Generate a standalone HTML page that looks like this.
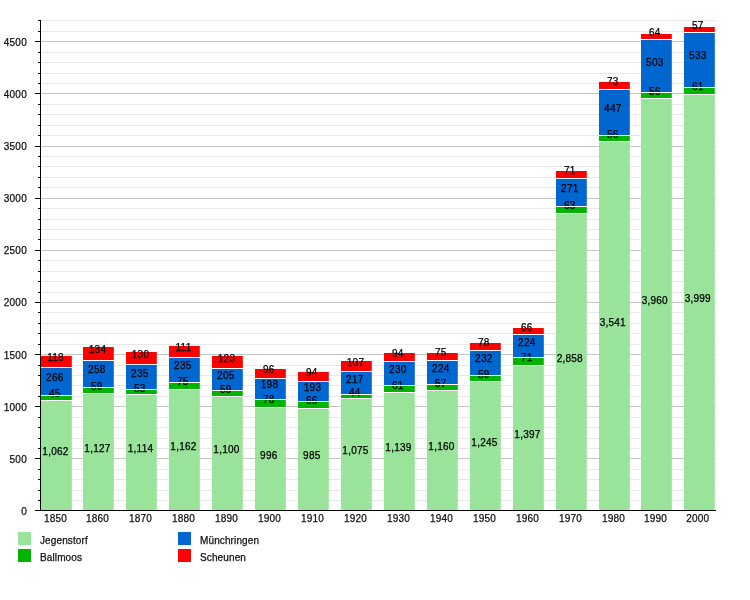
<!DOCTYPE html>
<html><head><meta charset="utf-8"><style>
html,body{margin:0;padding:0;background:#fff;width:750px;height:600px;overflow:hidden;position:relative}
svg text{font-family:"Liberation Sans",sans-serif;font-size:10px;stroke:currentColor;stroke-width:0.25px}
.lb text{fill:#000;color:#000}
text.ax{fill:#111;color:#111}
text.num{letter-spacing:0.25px}
</style></head><body>
<svg width="750" height="600" viewBox="0 0 750 600" style="position:absolute;left:0;top:0;will-change:transform"><line x1="41" y1="500.5" x2="716" y2="500.5" stroke="#e8e8e8" stroke-width="1"/><line x1="41" y1="490.5" x2="716" y2="490.5" stroke="#e8e8e8" stroke-width="1"/><line x1="41" y1="479.5" x2="716" y2="479.5" stroke="#e8e8e8" stroke-width="1"/><line x1="41" y1="469.5" x2="716" y2="469.5" stroke="#e8e8e8" stroke-width="1"/><line x1="41" y1="458.5" x2="716" y2="458.5" stroke="#c6c6c6" stroke-width="1"/><line x1="41" y1="448.5" x2="716" y2="448.5" stroke="#e8e8e8" stroke-width="1"/><line x1="41" y1="438.5" x2="716" y2="438.5" stroke="#e8e8e8" stroke-width="1"/><line x1="41" y1="427.5" x2="716" y2="427.5" stroke="#e8e8e8" stroke-width="1"/><line x1="41" y1="417.5" x2="716" y2="417.5" stroke="#e8e8e8" stroke-width="1"/><line x1="41" y1="406.5" x2="716" y2="406.5" stroke="#c6c6c6" stroke-width="1"/><line x1="41" y1="396.5" x2="716" y2="396.5" stroke="#e8e8e8" stroke-width="1"/><line x1="41" y1="385.5" x2="716" y2="385.5" stroke="#e8e8e8" stroke-width="1"/><line x1="41" y1="375.5" x2="716" y2="375.5" stroke="#e8e8e8" stroke-width="1"/><line x1="41" y1="365.5" x2="716" y2="365.5" stroke="#e8e8e8" stroke-width="1"/><line x1="41" y1="354.5" x2="716" y2="354.5" stroke="#c6c6c6" stroke-width="1"/><line x1="41" y1="344.5" x2="716" y2="344.5" stroke="#e8e8e8" stroke-width="1"/><line x1="41" y1="333.5" x2="716" y2="333.5" stroke="#e8e8e8" stroke-width="1"/><line x1="41" y1="323.5" x2="716" y2="323.5" stroke="#e8e8e8" stroke-width="1"/><line x1="41" y1="312.5" x2="716" y2="312.5" stroke="#e8e8e8" stroke-width="1"/><line x1="41" y1="302.5" x2="716" y2="302.5" stroke="#c6c6c6" stroke-width="1"/><line x1="41" y1="292.5" x2="716" y2="292.5" stroke="#e8e8e8" stroke-width="1"/><line x1="41" y1="281.5" x2="716" y2="281.5" stroke="#e8e8e8" stroke-width="1"/><line x1="41" y1="271.5" x2="716" y2="271.5" stroke="#e8e8e8" stroke-width="1"/><line x1="41" y1="260.5" x2="716" y2="260.5" stroke="#e8e8e8" stroke-width="1"/><line x1="41" y1="250.5" x2="716" y2="250.5" stroke="#c6c6c6" stroke-width="1"/><line x1="41" y1="239.5" x2="716" y2="239.5" stroke="#e8e8e8" stroke-width="1"/><line x1="41" y1="229.5" x2="716" y2="229.5" stroke="#e8e8e8" stroke-width="1"/><line x1="41" y1="219.5" x2="716" y2="219.5" stroke="#e8e8e8" stroke-width="1"/><line x1="41" y1="208.5" x2="716" y2="208.5" stroke="#e8e8e8" stroke-width="1"/><line x1="41" y1="198.5" x2="716" y2="198.5" stroke="#c6c6c6" stroke-width="1"/><line x1="41" y1="187.5" x2="716" y2="187.5" stroke="#e8e8e8" stroke-width="1"/><line x1="41" y1="177.5" x2="716" y2="177.5" stroke="#e8e8e8" stroke-width="1"/><line x1="41" y1="166.5" x2="716" y2="166.5" stroke="#e8e8e8" stroke-width="1"/><line x1="41" y1="156.5" x2="716" y2="156.5" stroke="#e8e8e8" stroke-width="1"/><line x1="41" y1="146.5" x2="716" y2="146.5" stroke="#c6c6c6" stroke-width="1"/><line x1="41" y1="135.5" x2="716" y2="135.5" stroke="#e8e8e8" stroke-width="1"/><line x1="41" y1="125.5" x2="716" y2="125.5" stroke="#e8e8e8" stroke-width="1"/><line x1="41" y1="114.5" x2="716" y2="114.5" stroke="#e8e8e8" stroke-width="1"/><line x1="41" y1="104.5" x2="716" y2="104.5" stroke="#e8e8e8" stroke-width="1"/><line x1="41" y1="93.5" x2="716" y2="93.5" stroke="#c6c6c6" stroke-width="1"/><line x1="41" y1="83.5" x2="716" y2="83.5" stroke="#e8e8e8" stroke-width="1"/><line x1="41" y1="73.5" x2="716" y2="73.5" stroke="#e8e8e8" stroke-width="1"/><line x1="41" y1="62.5" x2="716" y2="62.5" stroke="#e8e8e8" stroke-width="1"/><line x1="41" y1="52.5" x2="716" y2="52.5" stroke="#e8e8e8" stroke-width="1"/><line x1="41" y1="41.5" x2="716" y2="41.5" stroke="#c6c6c6" stroke-width="1"/><line x1="41" y1="31.5" x2="716" y2="31.5" stroke="#e8e8e8" stroke-width="1"/><line x1="41" y1="20.5" x2="716" y2="20.5" stroke="#e8e8e8" stroke-width="1"/><rect x="41.00" y="401" width="30.8" height="110" fill="#99e39b"/><rect x="41.00" y="396" width="30.8" height="4" fill="#00b400"/><rect x="41.00" y="368" width="30.8" height="27" fill="#0067d0"/><rect x="41.00" y="356" width="30.8" height="11" fill="#ff0000"/><rect x="41.00" y="355" width="30.8" height="1" fill="#fff"/><text class="ax num" x="55.50" y="522" text-anchor="middle">1850</text><rect x="83.00" y="394" width="30.8" height="117" fill="#99e39b"/><rect x="83.00" y="388" width="30.8" height="5" fill="#00b400"/><rect x="83.00" y="361" width="30.8" height="26" fill="#0067d0"/><rect x="83.00" y="347" width="30.8" height="13" fill="#ff0000"/><rect x="83.00" y="346" width="30.8" height="1" fill="#fff"/><text class="ax num" x="97.50" y="522" text-anchor="middle">1860</text><rect x="126.00" y="395" width="30.8" height="116" fill="#99e39b"/><rect x="126.00" y="390" width="30.8" height="4" fill="#00b400"/><rect x="126.00" y="365" width="30.8" height="24" fill="#0067d0"/><rect x="126.00" y="352" width="30.8" height="12" fill="#ff0000"/><rect x="126.00" y="351" width="30.8" height="1" fill="#fff"/><text class="ax num" x="140.50" y="522" text-anchor="middle">1870</text><rect x="169.00" y="390" width="30.8" height="121" fill="#99e39b"/><rect x="169.00" y="383" width="30.8" height="6" fill="#00b400"/><rect x="169.00" y="358" width="30.8" height="24" fill="#0067d0"/><rect x="169.00" y="346" width="30.8" height="11" fill="#ff0000"/><rect x="169.00" y="345" width="30.8" height="1" fill="#fff"/><text class="ax num" x="183.50" y="522" text-anchor="middle">1880</text><rect x="212.00" y="397" width="30.8" height="114" fill="#99e39b"/><rect x="212.00" y="391" width="30.8" height="5" fill="#00b400"/><rect x="212.00" y="369" width="30.8" height="21" fill="#0067d0"/><rect x="212.00" y="356" width="30.8" height="12" fill="#ff0000"/><rect x="212.00" y="355" width="30.8" height="1" fill="#fff"/><text class="ax num" x="226.50" y="522" text-anchor="middle">1890</text><rect x="255.00" y="408" width="30.8" height="103" fill="#99e39b"/><rect x="255.00" y="400" width="30.8" height="7" fill="#00b400"/><rect x="255.00" y="379" width="30.8" height="20" fill="#0067d0"/><rect x="255.00" y="369" width="30.8" height="9" fill="#ff0000"/><rect x="255.00" y="368" width="30.8" height="1" fill="#fff"/><text class="ax num" x="269.50" y="522" text-anchor="middle">1900</text><rect x="298.00" y="409" width="30.8" height="102" fill="#99e39b"/><rect x="298.00" y="402" width="30.8" height="6" fill="#00b400"/><rect x="298.00" y="382" width="30.8" height="19" fill="#0067d0"/><rect x="298.00" y="372" width="30.8" height="9" fill="#ff0000"/><rect x="298.00" y="371" width="30.8" height="1" fill="#fff"/><text class="ax num" x="312.50" y="522" text-anchor="middle">1910</text><rect x="341.00" y="399" width="30.8" height="112" fill="#99e39b"/><rect x="341.00" y="395" width="30.8" height="3" fill="#00b400"/><rect x="341.00" y="372" width="30.8" height="22" fill="#0067d0"/><rect x="341.00" y="361" width="30.8" height="10" fill="#ff0000"/><rect x="341.00" y="360" width="30.8" height="1" fill="#fff"/><text class="ax num" x="355.50" y="522" text-anchor="middle">1920</text><rect x="384.00" y="393" width="30.8" height="118" fill="#99e39b"/><rect x="384.00" y="386" width="30.8" height="6" fill="#00b400"/><rect x="384.00" y="362" width="30.8" height="23" fill="#0067d0"/><rect x="384.00" y="353" width="30.8" height="8" fill="#ff0000"/><rect x="384.00" y="352" width="30.8" height="1" fill="#fff"/><text class="ax num" x="398.50" y="522" text-anchor="middle">1930</text><rect x="427.00" y="391" width="30.8" height="120" fill="#99e39b"/><rect x="427.00" y="385" width="30.8" height="5" fill="#00b400"/><rect x="427.00" y="361" width="30.8" height="23" fill="#0067d0"/><rect x="427.00" y="353" width="30.8" height="7" fill="#ff0000"/><rect x="427.00" y="352" width="30.8" height="1" fill="#fff"/><text class="ax num" x="441.50" y="522" text-anchor="middle">1940</text><rect x="470.00" y="382" width="30.8" height="129" fill="#99e39b"/><rect x="470.00" y="376" width="30.8" height="5" fill="#00b400"/><rect x="470.00" y="351" width="30.8" height="24" fill="#0067d0"/><rect x="470.00" y="343" width="30.8" height="7" fill="#ff0000"/><rect x="470.00" y="342" width="30.8" height="1" fill="#fff"/><text class="ax num" x="484.50" y="522" text-anchor="middle">1950</text><rect x="513.00" y="366" width="30.8" height="145" fill="#99e39b"/><rect x="513.00" y="358" width="30.8" height="7" fill="#00b400"/><rect x="513.00" y="335" width="30.8" height="22" fill="#0067d0"/><rect x="513.00" y="328" width="30.8" height="6" fill="#ff0000"/><rect x="513.00" y="327" width="30.8" height="1" fill="#fff"/><text class="ax num" x="527.50" y="522" text-anchor="middle">1960</text><rect x="556.00" y="214" width="30.8" height="297" fill="#99e39b"/><rect x="556.00" y="207" width="30.8" height="6" fill="#00b400"/><rect x="556.00" y="179" width="30.8" height="27" fill="#0067d0"/><rect x="556.00" y="171" width="30.8" height="7" fill="#ff0000"/><rect x="556.00" y="170" width="30.8" height="1" fill="#fff"/><text class="ax num" x="570.50" y="522" text-anchor="middle">1970</text><rect x="599.00" y="142" width="30.8" height="369" fill="#99e39b"/><rect x="599.00" y="136" width="30.8" height="5" fill="#00b400"/><rect x="599.00" y="90" width="30.8" height="45" fill="#0067d0"/><rect x="599.00" y="82" width="30.8" height="7" fill="#ff0000"/><rect x="599.00" y="81" width="30.8" height="1" fill="#fff"/><text class="ax num" x="613.50" y="522" text-anchor="middle">1980</text><rect x="641.00" y="99" width="30.8" height="412" fill="#99e39b"/><rect x="641.00" y="93" width="30.8" height="5" fill="#00b400"/><rect x="641.00" y="40" width="30.8" height="52" fill="#0067d0"/><rect x="641.00" y="34" width="30.8" height="5" fill="#ff0000"/><rect x="641.00" y="33" width="30.8" height="1" fill="#fff"/><text class="ax num" x="655.50" y="522" text-anchor="middle">1990</text><rect x="684.00" y="95" width="30.8" height="416" fill="#99e39b"/><rect x="684.00" y="88" width="30.8" height="6" fill="#00b400"/><rect x="684.00" y="33" width="30.8" height="54" fill="#0067d0"/><rect x="684.00" y="27" width="30.8" height="5" fill="#ff0000"/><rect x="684.00" y="26" width="30.8" height="1" fill="#fff"/><text class="ax num" x="697.80" y="522" text-anchor="middle">2000</text><g class="lb"><text class="num" x="55.50" y="455.00" text-anchor="middle">1,062</text><text class="num" x="54.80" y="397.00" text-anchor="middle">45</text><text class="num" x="54.80" y="381.00" text-anchor="middle">266</text><text class="num" x="55.50" y="361.00" text-anchor="middle">118</text><text class="num" x="97.50" y="452.00" text-anchor="middle">1,127</text><text class="num" x="96.80" y="390.00" text-anchor="middle">59</text><text class="num" x="96.80" y="373.00" text-anchor="middle">258</text><text class="num" x="97.50" y="353.00" text-anchor="middle">134</text><text class="num" x="140.50" y="452.00" text-anchor="middle">1,114</text><text class="num" x="139.80" y="392.00" text-anchor="middle">53</text><text class="num" x="139.80" y="377.00" text-anchor="middle">235</text><text class="num" x="140.50" y="358.00" text-anchor="middle">130</text><text class="num" x="183.50" y="450.00" text-anchor="middle">1,162</text><text class="num" x="182.80" y="385.00" text-anchor="middle">75</text><text class="num" x="182.80" y="369.00" text-anchor="middle">235</text><text class="num" x="183.50" y="351.00" text-anchor="middle">111</text><text class="num" x="226.50" y="453.00" text-anchor="middle">1,100</text><text class="num" x="225.80" y="393.00" text-anchor="middle">59</text><text class="num" x="225.80" y="379.00" text-anchor="middle">205</text><text class="num" x="226.50" y="362.00" text-anchor="middle">123</text><text class="num" x="268.80" y="459.00" text-anchor="middle">996</text><text class="num" x="268.80" y="403.00" text-anchor="middle">78</text><text class="num" x="269.50" y="388.00" text-anchor="middle">198</text><text class="num" x="268.80" y="373.00" text-anchor="middle">96</text><text class="num" x="311.80" y="459.00" text-anchor="middle">985</text><text class="num" x="311.80" y="404.00" text-anchor="middle">66</text><text class="num" x="312.50" y="391.00" text-anchor="middle">193</text><text class="num" x="311.80" y="376.00" text-anchor="middle">94</text><text class="num" x="355.50" y="454.00" text-anchor="middle">1,075</text><text class="num" x="354.80" y="396.00" text-anchor="middle">44</text><text class="num" x="354.80" y="383.00" text-anchor="middle">217</text><text class="num" x="355.50" y="366.00" text-anchor="middle">107</text><text class="num" x="398.50" y="451.00" text-anchor="middle">1,139</text><text class="num" x="397.80" y="389.00" text-anchor="middle">61</text><text class="num" x="397.80" y="373.00" text-anchor="middle">230</text><text class="num" x="397.80" y="357.00" text-anchor="middle">94</text><text class="num" x="441.50" y="450.00" text-anchor="middle">1,160</text><text class="num" x="440.80" y="387.00" text-anchor="middle">57</text><text class="num" x="440.80" y="372.00" text-anchor="middle">224</text><text class="num" x="440.80" y="356.00" text-anchor="middle">75</text><text class="num" x="484.50" y="446.00" text-anchor="middle">1,245</text><text class="num" x="483.80" y="378.00" text-anchor="middle">59</text><text class="num" x="483.80" y="362.00" text-anchor="middle">232</text><text class="num" x="483.80" y="346.00" text-anchor="middle">78</text><text class="num" x="527.50" y="438.00" text-anchor="middle">1,397</text><text class="num" x="526.80" y="361.00" text-anchor="middle">71</text><text class="num" x="526.80" y="346.00" text-anchor="middle">224</text><text class="num" x="526.80" y="331.00" text-anchor="middle">66</text><text class="num" x="569.80" y="362.00" text-anchor="middle">2,858</text><text class="num" x="569.80" y="209.00" text-anchor="middle">63</text><text class="num" x="569.80" y="192.00" text-anchor="middle">271</text><text class="num" x="569.80" y="174.00" text-anchor="middle">71</text><text class="num" x="612.80" y="326.00" text-anchor="middle">3,541</text><text class="num" x="612.80" y="138.00" text-anchor="middle">56</text><text class="num" x="612.80" y="112.00" text-anchor="middle">447</text><text class="num" x="612.80" y="85.00" text-anchor="middle">73</text><text class="num" x="654.80" y="304.00" text-anchor="middle">3,960</text><text class="num" x="654.80" y="95.00" text-anchor="middle">56</text><text class="num" x="654.80" y="66.00" text-anchor="middle">503</text><text class="num" x="654.80" y="36.00" text-anchor="middle">64</text><text class="num" x="697.80" y="302.00" text-anchor="middle">3,999</text><text class="num" x="697.80" y="90.00" text-anchor="middle">61</text><text class="num" x="697.80" y="59.00" text-anchor="middle">533</text><text class="num" x="697.80" y="29.00" text-anchor="middle">57</text></g><rect x="41.00" y="400" width="30.8" height="1" fill="#fff"/><rect x="41.00" y="395" width="30.8" height="1" fill="#fff"/><rect x="41.00" y="367" width="30.8" height="1" fill="#fff"/><rect x="83.00" y="393" width="30.8" height="1" fill="#fff"/><rect x="83.00" y="387" width="30.8" height="1" fill="#fff"/><rect x="83.00" y="360" width="30.8" height="1" fill="#fff"/><rect x="126.00" y="394" width="30.8" height="1" fill="#fff"/><rect x="126.00" y="389" width="30.8" height="1" fill="#fff"/><rect x="126.00" y="364" width="30.8" height="1" fill="#fff"/><rect x="169.00" y="389" width="30.8" height="1" fill="#fff"/><rect x="169.00" y="382" width="30.8" height="1" fill="#fff"/><rect x="169.00" y="357" width="30.8" height="1" fill="#fff"/><rect x="212.00" y="396" width="30.8" height="1" fill="#fff"/><rect x="212.00" y="390" width="30.8" height="1" fill="#fff"/><rect x="212.00" y="368" width="30.8" height="1" fill="#fff"/><rect x="255.00" y="407" width="30.8" height="1" fill="#fff"/><rect x="255.00" y="399" width="30.8" height="1" fill="#fff"/><rect x="255.00" y="378" width="30.8" height="1" fill="#fff"/><rect x="298.00" y="408" width="30.8" height="1" fill="#fff"/><rect x="298.00" y="401" width="30.8" height="1" fill="#fff"/><rect x="298.00" y="381" width="30.8" height="1" fill="#fff"/><rect x="341.00" y="398" width="30.8" height="1" fill="#fff"/><rect x="341.00" y="394" width="30.8" height="1" fill="#fff"/><rect x="341.00" y="371" width="30.8" height="1" fill="#fff"/><rect x="384.00" y="392" width="30.8" height="1" fill="#fff"/><rect x="384.00" y="385" width="30.8" height="1" fill="#fff"/><rect x="384.00" y="361" width="30.8" height="1" fill="#fff"/><rect x="427.00" y="390" width="30.8" height="1" fill="#fff"/><rect x="427.00" y="384" width="30.8" height="1" fill="#fff"/><rect x="427.00" y="360" width="30.8" height="1" fill="#fff"/><rect x="470.00" y="381" width="30.8" height="1" fill="#fff"/><rect x="470.00" y="375" width="30.8" height="1" fill="#fff"/><rect x="470.00" y="350" width="30.8" height="1" fill="#fff"/><rect x="513.00" y="365" width="30.8" height="1" fill="#fff"/><rect x="513.00" y="357" width="30.8" height="1" fill="#fff"/><rect x="513.00" y="334" width="30.8" height="1" fill="#fff"/><rect x="556.00" y="213" width="30.8" height="1" fill="#fff"/><rect x="556.00" y="206" width="30.8" height="1" fill="#fff"/><rect x="556.00" y="178" width="30.8" height="1" fill="#fff"/><rect x="599.00" y="141" width="30.8" height="1" fill="#fff"/><rect x="599.00" y="135" width="30.8" height="1" fill="#fff"/><rect x="599.00" y="89" width="30.8" height="1" fill="#fff"/><rect x="641.00" y="98" width="30.8" height="1" fill="#fff"/><rect x="641.00" y="92" width="30.8" height="1" fill="#fff"/><rect x="641.00" y="39" width="30.8" height="1" fill="#fff"/><rect x="684.00" y="94" width="30.8" height="1" fill="#fff"/><rect x="684.00" y="87" width="30.8" height="1" fill="#fff"/><rect x="684.00" y="32" width="30.8" height="1" fill="#fff"/><rect x="40" y="20" width="1" height="491" fill="#000"/><rect x="35" y="510" width="681" height="1" fill="#000"/><rect x="35" y="510" width="5" height="1" fill="#000"/><text class="ax num" x="27" y="515" text-anchor="end">0</text><rect x="38" y="500" width="2" height="1" fill="#000"/><rect x="38" y="490" width="2" height="1" fill="#000"/><rect x="38" y="479" width="2" height="1" fill="#000"/><rect x="38" y="469" width="2" height="1" fill="#000"/><rect x="35" y="458" width="5" height="1" fill="#000"/><text class="ax num" x="27" y="463" text-anchor="end">500</text><rect x="38" y="448" width="2" height="1" fill="#000"/><rect x="38" y="438" width="2" height="1" fill="#000"/><rect x="38" y="427" width="2" height="1" fill="#000"/><rect x="38" y="417" width="2" height="1" fill="#000"/><rect x="35" y="406" width="5" height="1" fill="#000"/><text class="ax num" x="27" y="411" text-anchor="end">1000</text><rect x="38" y="396" width="2" height="1" fill="#000"/><rect x="38" y="385" width="2" height="1" fill="#000"/><rect x="38" y="375" width="2" height="1" fill="#000"/><rect x="38" y="365" width="2" height="1" fill="#000"/><rect x="35" y="354" width="5" height="1" fill="#000"/><text class="ax num" x="27" y="359" text-anchor="end">1500</text><rect x="38" y="344" width="2" height="1" fill="#000"/><rect x="38" y="333" width="2" height="1" fill="#000"/><rect x="38" y="323" width="2" height="1" fill="#000"/><rect x="38" y="312" width="2" height="1" fill="#000"/><rect x="35" y="302" width="5" height="1" fill="#000"/><text class="ax num" x="27" y="306" text-anchor="end">2000</text><rect x="38" y="292" width="2" height="1" fill="#000"/><rect x="38" y="281" width="2" height="1" fill="#000"/><rect x="38" y="271" width="2" height="1" fill="#000"/><rect x="38" y="260" width="2" height="1" fill="#000"/><rect x="35" y="250" width="5" height="1" fill="#000"/><text class="ax num" x="27" y="254" text-anchor="end">2500</text><rect x="38" y="239" width="2" height="1" fill="#000"/><rect x="38" y="229" width="2" height="1" fill="#000"/><rect x="38" y="219" width="2" height="1" fill="#000"/><rect x="38" y="208" width="2" height="1" fill="#000"/><rect x="35" y="198" width="5" height="1" fill="#000"/><text class="ax num" x="27" y="202" text-anchor="end">3000</text><rect x="38" y="187" width="2" height="1" fill="#000"/><rect x="38" y="177" width="2" height="1" fill="#000"/><rect x="38" y="166" width="2" height="1" fill="#000"/><rect x="38" y="156" width="2" height="1" fill="#000"/><rect x="35" y="146" width="5" height="1" fill="#000"/><text class="ax num" x="27" y="150" text-anchor="end">3500</text><rect x="38" y="135" width="2" height="1" fill="#000"/><rect x="38" y="125" width="2" height="1" fill="#000"/><rect x="38" y="114" width="2" height="1" fill="#000"/><rect x="38" y="104" width="2" height="1" fill="#000"/><rect x="35" y="93" width="5" height="1" fill="#000"/><text class="ax num" x="27" y="98" text-anchor="end">4000</text><rect x="38" y="83" width="2" height="1" fill="#000"/><rect x="38" y="73" width="2" height="1" fill="#000"/><rect x="38" y="62" width="2" height="1" fill="#000"/><rect x="38" y="52" width="2" height="1" fill="#000"/><rect x="35" y="41" width="5" height="1" fill="#000"/><text class="ax num" x="27" y="46" text-anchor="end">4500</text><rect x="38" y="31" width="2" height="1" fill="#000"/><rect x="38" y="20" width="2" height="1" fill="#000"/><rect x="18" y="532" width="13" height="13" fill="#99e39b"/><text class="ax" x="40" y="544" letter-spacing="0.12">Jegenstorf</text><rect x="18" y="549" width="13" height="13" fill="#00b400"/><text class="ax" x="40" y="561" letter-spacing="0.12">Ballmoos</text><rect x="178" y="532" width="13" height="13" fill="#0067d0"/><text class="ax" x="200" y="544" letter-spacing="0.12">Münchringen</text><rect x="178" y="549" width="13" height="13" fill="#ff0000"/><text class="ax" x="200" y="561" letter-spacing="0.12">Scheunen</text></svg>
</body></html>
